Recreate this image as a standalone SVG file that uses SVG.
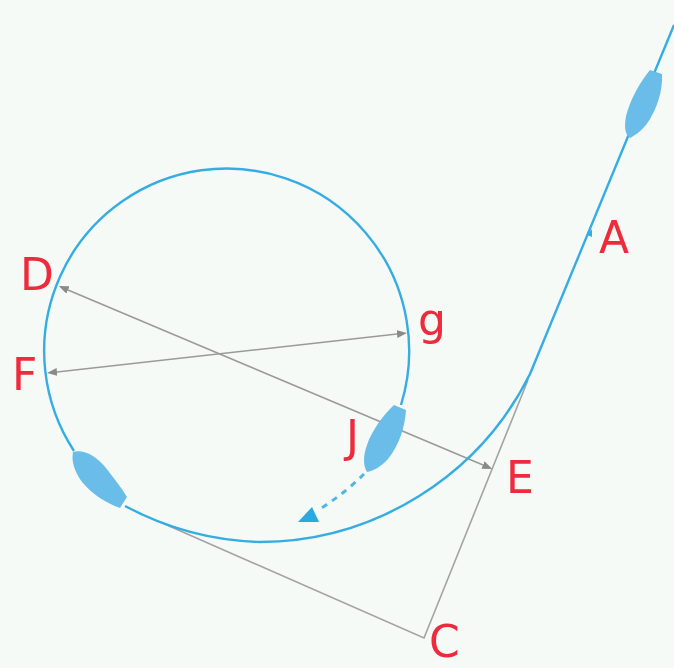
<svg xmlns="http://www.w3.org/2000/svg" width="674" height="668" viewBox="0 0 674 668">
<style>
.track{fill:none;stroke:#35ade3;stroke-width:2.4}
.guide{fill:none;stroke:#a3a3a3;stroke-width:1.6}
.dim{fill:none;stroke:#9a9a9a;stroke-width:1.6;marker-start:url(#g);marker-end:url(#g)}
.boat{fill:#6bbde8}
.blur{filter:url(#soft)}
text{font-family:"DejaVu Sans",sans-serif;font-size:44px;fill:#ee2a3c}
</style>
<defs>
<filter id="soft" x="-5%" y="-5%" width="110%" height="110%"><feGaussianBlur stdDeviation="0.6"/></filter>
<marker id="g" viewBox="0 0 10 8" refX="0" refY="4" markerUnits="userSpaceOnUse" markerWidth="10" markerHeight="8" orient="auto-start-reverse">
<path d="M0 0L10 4L0 8z" fill="#8a8a8a"/>
</marker>
</defs>
<rect width="674" height="668" fill="#f5faf7"/>
<g id="connectors" class="blur">
<path class="guide" d="M528 380L424 638L160 522"/>
<path class="dim" d="M483 465L68 290"/>
<path class="dim" d="M397 334L57 372"/>
<path class="track" d="M674 25L530 374A303 303 0 0 1 260 542A304 304 0 0 1 125 506"/>
<path class="track" d="M74 451A182.500 182.500 0 1 1 401 405"/>
<path d="M364 474Q345 493 320 509" fill="none" stroke="#4fb6e6" stroke-width="3" stroke-dasharray="6 6"/>
<path d="M298 522L312 507L319 522z" fill="#29a9e1"/>
<path d="M587 235L592 229L592 237z" fill="#35ade3"/>
</g>
<g id="boat-a" class="blur"><path class="boat" d="M650 70L662 74C663 90 657 110 646 125C640 132 634 136 630 138C625 134 624 128 626 116C630 100 640 82 650 70z"/></g>
<g id="boat-j" class="blur"><path class="boat" d="M394 405L406 410C405 426 400 444 388 459C381 467 373 471 367 472C363 466 363 456 367 445C372 430 384 414 394 405z"/></g>
<g id="boat-f" class="blur"><path class="boat" d="M73 452C84 449 96 456 106 468C113 477 121 487 127 497L120 508C106 503 92 494 82 482C75 472 71 462 73 452z"/></g>
<g id="labels" class="blur">
<text x="599" y="253">A</text>
<text x="429" y="657">C</text>
<text x="20" y="290">D</text>
<text x="506" y="493">E</text>
<text x="12" y="390">F</text>
<text x="418" y="335">g</text>
<text x="346" y="452">J</text>
</g>
</svg>
